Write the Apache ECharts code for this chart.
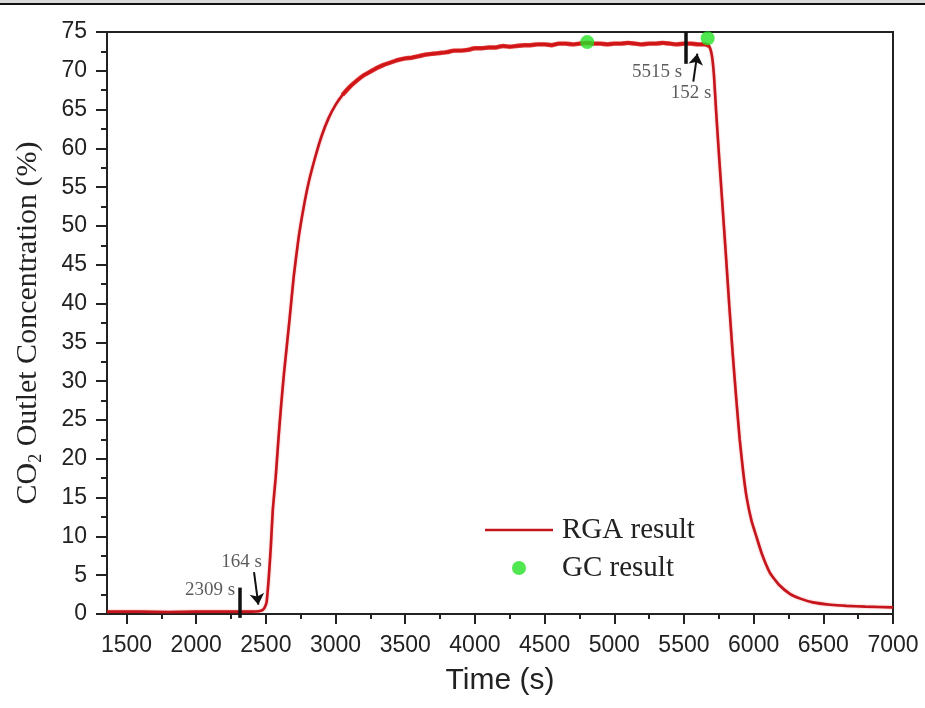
<!DOCTYPE html>
<html>
<head>
<meta charset="utf-8">
<script src="https://cdn.jsdelivr.net/npm/echarts@6/dist/echarts.min.js"></script>
<style>
  html, body { margin: 0; padding: 0; background: #fff; }
  #chart { width: 925px; height: 708px; }
</style>
</head>
<body>
<div id="chart"></div>
<script>
// RGA trace: time (s) and CO2 outlet concentration (%)
const rgaTime = [
  1360, 1600, 1800, 2000, 2200, 2400, 2450, 2475, 2490, 2505,
  2520, 2535, 2550, 2570, 2590, 2610, 2630, 2650, 2670, 2700,
  2735, 2770, 2807, 2850, 2900, 2950, 3000, 3050, 3100, 3150,
  3200, 3250, 3300, 3350, 3400, 3450, 3500, 3550, 3600, 3650,
  3700, 3750, 3800, 3850, 3900, 3950, 4000, 4050, 4100, 4150,
  4200, 4250, 4300, 4350, 4400, 4450, 4500, 4550, 4600, 4650,
  4700, 4750, 4800, 4850, 4900, 4950, 5000, 5050, 5100, 5150,
  5200, 5250, 5300, 5350, 5400, 5450, 5500, 5550, 5600, 5650,
  5680, 5700, 5715, 5730, 5750, 5775, 5800, 5825, 5850, 5875,
  5900, 5925, 5950, 5985, 6021, 6060, 6117, 6180, 6260, 6340,
  6425, 6550, 6666, 6800, 7000
];
const rgaConc = [
  0.3, 0.3, 0.25, 0.3, 0.3, 0.3, 0.35, 0.5, 0.8, 1.5,
  4.5, 8.5, 13.5, 17.5, 22.5, 27.0, 31.0, 34.5, 38.0, 43.5,
  48.5, 52.3, 55.6, 58.6, 61.6, 63.9, 65.6, 66.9, 67.9, 68.7,
  69.4, 69.9, 70.4, 70.8, 71.1, 71.4, 71.6, 71.7, 71.9, 72.1,
  72.2, 72.3, 72.4, 72.6, 72.6, 72.7, 72.9, 72.9, 73.0, 73.0,
  73.2, 73.1, 73.2, 73.3, 73.3, 73.4, 73.4, 73.3, 73.5, 73.5,
  73.4, 73.5, 73.6, 73.5, 73.5, 73.4, 73.5, 73.5, 73.6, 73.5,
  73.4, 73.5, 73.5, 73.6, 73.5, 73.4, 73.5, 73.5, 73.4, 73.4,
  73.2, 72.0, 69.5, 65.0, 59.5, 53.0, 46.5, 39.8, 33.5, 27.8,
  22.5, 18.3, 15.0, 12.0, 9.9, 7.7, 5.3, 3.8, 2.6, 1.95,
  1.5, 1.2, 1.05, 0.95, 0.86
];

// GC samples
const gcTime = [4806, 5670];
const gcConc = [73.7, 74.2];

// Axis ticks
const xTickValues = [1500, 2000, 2500, 3000, 3500, 4000, 4500, 5000, 5500, 6000, 6500, 7000];
const xMinorTickValues = [1750, 2250, 2750, 3250, 3750, 4250, 4750, 5250, 5750, 6250, 6750];

// Switching instants and the response delays that follow them
const switchTimes = [2309, 5515];
const switchLabels = ['2309 s', '5515 s'];
const delayLabels = ['164 s', '152 s'];

// Plateau stretch where the RGA signal is visibly noisy
const noisyRange = [3050, 5685];

const rgaData = rgaTime.map((t, i) => [t, rgaConc[i]]);
const rgaNoisy = rgaData.filter(p => p[0] >= noisyRange[0] && p[0] <= noisyRange[1]);
const gcData = gcTime.map((t, i) => [t, gcConc[i]]);

const serif = '"Liberation Serif", "Times New Roman", serif';
const sans = '"Liberation Sans", Arial, sans-serif';
const ink = '#222';
const red = '#c4161c';

// Annotation marks (data coordinates)
const switchBars = [
  { coords: [[switchTimes[0], -0.5], [switchTimes[0], 3.4]] },
  { coords: [[switchTimes[1], 75], [switchTimes[1], 70.9]] }
];
const delayArrows = [
  { coords: [[2415, 5.4], [2446, 1.2]] },
  { coords: [[5567, 68.6], [5596, 72.2]] }
];
const noteLabels = [
  { name: switchLabels[0], value: [switchTimes[0], 3.1], label: { align: 'right', offset: [-4, 0] } },
  { name: switchLabels[1], value: [switchTimes[1], 69.9], label: { align: 'right', offset: [-4, 0] } },
  { name: delayLabels[0], value: [2326, 6.75], label: { align: 'center' } },
  { name: delayLabels[1], value: [5551, 67.2], label: { align: 'center' } }
];

const chart = echarts.init(document.getElementById('chart'), null, { renderer: 'canvas' });

chart.setOption({
  animation: false,
  backgroundColor: '#fff',
  graphic: [
    { type: 'rect', shape: { x: 0, y: 0, width: 925, height: 3 }, style: { fill: '#d9d9d9' }, silent: true },
    { type: 'rect', shape: { x: 0, y: 3, width: 925, height: 2 }, style: { fill: '#111' }, silent: true }
  ],
  grid: {
    left: 107, right: 32, top: 32, bottom: 94,
    show: true, borderColor: ink, borderWidth: 2, backgroundColor: 'transparent'
  },
  legend: {
    orient: 'vertical',
    left: 485, top: 515,
    padding: 0,
    itemWidth: 68, itemHeight: 14, itemGap: 8,
    data: [
      { name: 'RGA result', icon: 'path://M0,0 H68 V2.6 H0 Z' },
      { name: 'GC result', icon: 'circle' }
    ],
    textStyle: { fontFamily: serif, fontSize: 29, color: ink, lineHeight: 30, padding: [0, 0, 0, 4] }
  },
  xAxis: [
    {
      type: 'value', min: 1360, max: 7000,
      name: 'Time (s)', nameLocation: 'middle', nameGap: 52,
      nameTextStyle: { fontFamily: sans, fontSize: 30, color: ink },
      axisLine: { show: true, onZero: false, lineStyle: { color: ink, width: 2 } },
      axisTick: { show: true, length: 10, customValues: xTickValues, lineStyle: { color: ink, width: 2 } },
      axisLabel: {
        customValues: xTickValues, margin: 20, fontFamily: sans, fontSize: 23, color: ink,
        formatter: v => String(v)
      },
      splitLine: { show: false }
    },
    {
      type: 'value', min: 1360, max: 7000, position: 'bottom',
      axisLine: { show: true, onZero: false, lineStyle: { color: ink, width: 2 } },
      axisTick: { show: true, length: 5, customValues: xMinorTickValues, lineStyle: { color: ink, width: 2 } },
      axisLabel: { show: false, customValues: xMinorTickValues },
      splitLine: { show: false }
    }
  ],
  yAxis: {
    type: 'value', min: 0, max: 75, interval: 5,
    name: 'CO{sub|2} Outlet Concentration (%)', nameLocation: 'middle', nameGap: 62, nameRotate: 90,
    nameTextStyle: {
      fontFamily: serif, fontSize: 30, color: ink, lineHeight: 34,
      rich: { sub: { fontFamily: serif, fontSize: 18, color: ink, verticalAlign: 'bottom', lineHeight: 12 } }
    },
    axisLine: { show: true, onZero: false, lineStyle: { color: ink, width: 2 } },
    axisTick: { show: true, length: 11, lineStyle: { color: ink, width: 2 } },
    minorTick: { show: true, splitNumber: 2, length: 6, lineStyle: { color: ink, width: 2 } },
    axisLabel: { margin: 20, fontFamily: sans, fontSize: 23, color: ink },
    splitLine: { show: false }
  },
  series: [
    {
      name: 'RGA result', type: 'line', data: rgaData,
      symbol: 'none', showSymbol: false,
      smooth: 0.15,
      lineStyle: { color: red, width: 2.6, shadowColor: 'rgba(230,20,20,0.45)', shadowBlur: 2 },
      itemStyle: { color: red },
      z: 2
    },
    {
      // signal noise on the plateau widens the trace there
      name: 'RGA noise', type: 'line', data: rgaNoisy,
      symbol: 'none', showSymbol: false,
      smooth: 0.15,
      lineStyle: { color: '#d41414', width: 4.4, opacity: 0.85 },
      z: 2
    },
    {
      name: 'GC result', type: 'scatter', data: gcData,
      symbol: 'circle', symbolSize: 14,
      itemStyle: { color: '#25e125' },
      z: 3
    },
    {
      name: 'switch', type: 'lines', coordinateSystem: 'cartesian2d',
      data: switchBars, symbol: 'none', clip: false,
      lineStyle: { color: '#111', width: 3.5, opacity: 1 },
      z: 4
    },
    {
      name: 'delay', type: 'lines', coordinateSystem: 'cartesian2d',
      data: delayArrows, symbol: ['none', 'arrow'], symbolSize: 11, clip: false,
      lineStyle: { color: '#111', width: 2, opacity: 1 },
      z: 4
    },
    {
      name: 'notes', type: 'scatter', data: noteLabels,
      symbolSize: 1, itemStyle: { color: 'rgba(0,0,0,0)' },
      label: {
        show: true, position: 'inside', formatter: '{b}',
        fontFamily: serif, fontSize: 19, color: '#333'
      },
      z: 5
    }
  ]
});
</script>
</body>
</html>
